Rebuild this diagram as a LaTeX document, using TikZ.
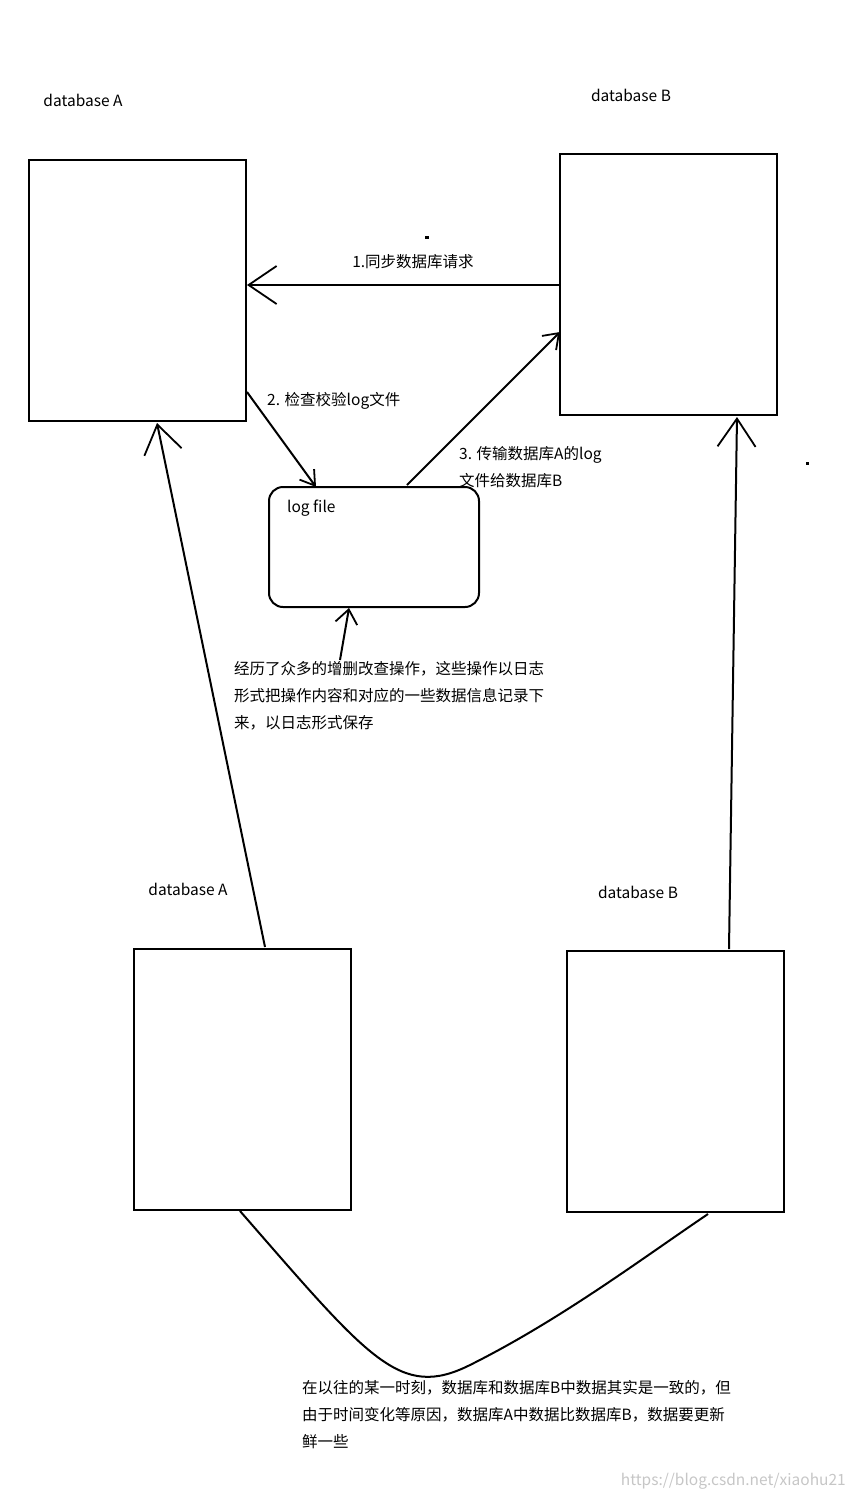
\documentclass[tikz,border=0pt]{standalone}
\usepackage{fontspec}
\setmainfont{Noto Sans CJK SC}
\usetikzlibrary{arrows.meta}
\begin{document}
\begin{tikzpicture}[x=1pt,y=-1pt,
  box/.style={draw,line width=2pt},
  lbl/.style={font=\fontsize{15.5}{27}\selectfont,inner sep=0pt},
  arr/.style={line width=2pt,-{Straight Barb[length=28pt,width=38pt,line width=1.8pt]}}]
\useasboundingbox (0,0) rectangle (850,1500);
\draw[box] (29,160) rectangle (246,421);
\node[lbl] at (83,100) {database A};
\draw[box] (560,154) rectangle (777,415);
\node[lbl] at (631,95) {database B};
\coordinate (rA) at (560,285); \coordinate (lA) at (247,285);
\draw[arr] (rA) -- (lA);
\node[lbl] at (413,262) {1.同步数据库请求};
\fill (425,236) rectangle (429,239);
\fill (806,462) rectangle (809,465);
\draw[box,rounded corners=14pt] (269,487) rectangle (479,607);
\node[lbl,anchor=west] at (287,508) {log file};
\coordinate (a1) at (247,392); \coordinate (a2) at (316,487);
\draw[arr,-{Straight Barb[length=14pt,width=18pt,line width=1.8pt]}] (a1) -- (a2);
\node[lbl,anchor=west] at (267,401) {2. 检查校验log文件};
\coordinate (b1) at (407,485); \coordinate (b2) at (560,332);
\draw[arr,-{Straight Barb[length=14pt,width=20pt,line width=1.8pt]}] (b1) -- (b2);
\node[lbl,anchor=west,align=left] at (459,467) {3. 传输数据库A的log\\文件给数据库B};
\coordinate (c1) at (340,660); \coordinate (c2) at (349,608);
\draw[arr,-{Straight Barb[length=14pt,width=22pt,line width=1.8pt]}] (c1) -- (c2);
\node[lbl,anchor=west,align=left] at (234,696) {经历了众多的增删改查操作，这些操作以日志\\形式把操作内容和对应的一些数据信息记录下\\来，以日志形式保存};
\draw[box] (134,949) rectangle (351,1210);
\node[lbl] at (188,889) {database A};
\draw[box] (567,951) rectangle (784,1212);
\node[lbl] at (638,892) {database B};
\coordinate (d1) at (265,947); \coordinate (d2) at (157,423);
\draw[arr] (d1) -- (d2);
\coordinate (e1) at (729,949); \coordinate (e2) at (737,417);
\draw[arr] (e1) -- (e2);
\coordinate (f1) at (240,1211); \coordinate (f2) at (708,1214);
\draw[line width=2pt] (f1) .. controls (370,1360) and (400,1400) .. (470,1365) .. controls (560,1320) and (640,1260) .. (f2);
\node[lbl,anchor=west,align=left] at (302,1415) {在以往的某一时刻，数据库和数据库B中数据其实是一致的，但\\由于时间变化等原因，数据库A中数据比数据库B，数据要更新\\鲜一些};
\node[lbl,text=gray!45,anchor=east] at (846,1481) {https://blog.csdn.net/xiaohu21};
\end{tikzpicture}
\end{document}
